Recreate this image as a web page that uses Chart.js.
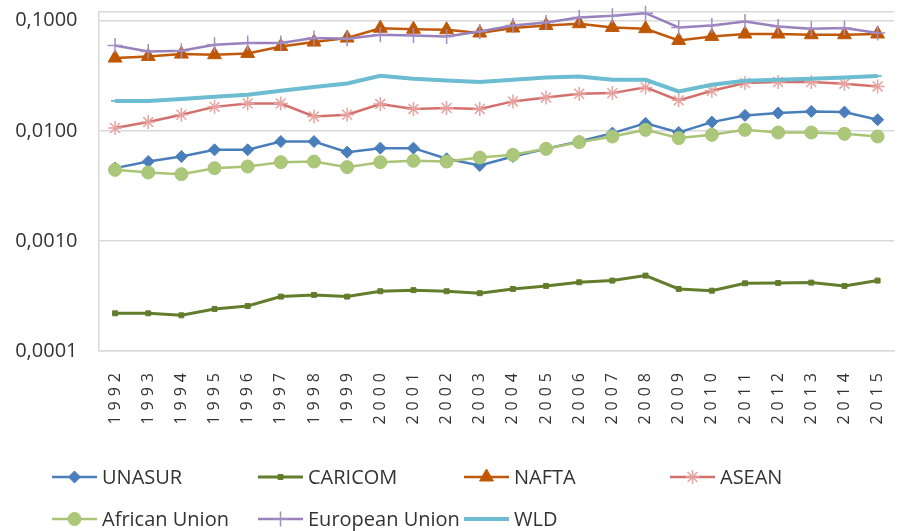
<!DOCTYPE html>
<html lang="en">
<head>
  <meta charset="UTF-8">
  <title>Regional blocs – log scale</title>
  <style>
    html, body {
      margin: 0;
      padding: 0;
      background: #fff;
      overflow: hidden;
    }
    #wrap {
      width: 914px;
      height: 531px;
    }
  </style>
</head>
<body>

<div id="wrap"><canvas id="chart"></canvas></div>

<script src="https://cdn.jsdelivr.net/npm/chart.js"></script>
<script>
  const years = ['1992', '1993', '1994', '1995', '1996', '1997', '1998', '1999', '2000', '2001', '2002', '2003',
                 '2004', '2005', '2006', '2007', '2008', '2009', '2010', '2011', '2012', '2013', '2014', '2015'];

  const unasur = [0.00458, 0.00526, 0.00584, 0.00672, 0.00672, 0.00799, 0.00799, 0.00640, 0.00696, 0.00696, 0.00557, 0.00484,
                  0.00584, 0.00686, 0.00799, 0.00953, 0.0117, 0.00965, 0.0120, 0.0138, 0.0145, 0.0150, 0.0148, 0.0126];
  const caricom = [0.000220, 0.000220, 0.000211, 0.000241, 0.000256, 0.000312, 0.000323, 0.000312, 0.000349, 0.000357, 0.000349, 0.000335,
                   0.000366, 0.000390, 0.000421, 0.000436, 0.000484, 0.000366, 0.000353, 0.000412, 0.000415, 0.000418, 0.000390, 0.000436];
  const nafta = [0.0458, 0.0474, 0.0498, 0.0491, 0.0505, 0.0584, 0.0640, 0.0696, 0.0855, 0.0837, 0.0828, 0.0773,
                 0.0858, 0.0906, 0.0939, 0.0869, 0.0846, 0.0662, 0.0720, 0.0757, 0.0757, 0.0746, 0.0746, 0.0757];
  const asean = [0.0106, 0.0120, 0.0140, 0.0165, 0.0177, 0.0177, 0.0135, 0.0140, 0.0175, 0.0158, 0.0161, 0.0158,
                 0.0185, 0.0201, 0.0217, 0.0220, 0.0248, 0.0189, 0.0231, 0.0272, 0.0277, 0.0277, 0.0268, 0.0253];
  const africanUnion = [0.00442, 0.00418, 0.00404, 0.00458, 0.00474, 0.00519, 0.00526, 0.00468, 0.00519, 0.00534, 0.00526, 0.00572,
                        0.00605, 0.00686, 0.00789, 0.00888, 0.0102, 0.00859, 0.0092, 0.0102, 0.00965, 0.00965, 0.00939, 0.00888];
  const europeanUnion = [0.0596, 0.0526, 0.0534, 0.0605, 0.0627, 0.0627, 0.0696, 0.0686, 0.0746, 0.0735, 0.0720, 0.0799,
                         0.0906, 0.0965, 0.107, 0.111, 0.117, 0.0869, 0.0906, 0.0985, 0.0888, 0.0846, 0.0858, 0.0773];
  const wld = [0.0187, 0.0187, 0.0195, 0.0204, 0.0213, 0.0231, 0.0250, 0.0269, 0.0316, 0.0297, 0.0287, 0.0277,
               0.0291, 0.0305, 0.0312, 0.0291, 0.0291, 0.0228, 0.0262, 0.0285, 0.0291, 0.0297, 0.0305, 0.0314];

  const yTicks = [0.0001, 0.001, 0.01, 0.1];
  const yMin = 0.0001;
  const yMax = 0.12;

  const FONT = "'Open Sans', 'DejaVu Sans', sans-serif";
  const TEXT = '#333333';
  const GRID = '#d9d9d9';

  function series(label, data, color, pt, order) {
    return Object.assign({
      label: label,
      data: data,
      borderColor: color,
      backgroundColor: color,
      borderWidth: 2.5,
      tension: 0,
      clip: false,
      order: order,
      pointBorderColor: color,
      pointBackgroundColor: color,
      pointBorderWidth: 1,
      pointHoverRadius: 6
    }, pt);
  }

  const datasets = [
    series('UNASUR', unasur, '#4a7ebb', { pointStyle: 'rectRot', pointRadius: 6 }, 7),
    series('CARICOM', caricom, '#627d2c', { pointStyle: 'rect', pointRadius: 3.5, borderWidth: 3 }, 6),
    series('NAFTA', nafta, '#c0590a', { pointStyle: 'triangle', pointRadius: 8, pointBackgroundColor: '#bf5700' }, 5),
    series('ASEAN', asean, '#d4706c', { pointStyle: 'star', pointRadius: 7, pointBorderColor: '#e7a3a0', pointBorderWidth: 1.5 }, 4),
    series('African Union', africanUnion, '#a9c476', { pointStyle: 'circle', pointRadius: 6.5, pointBackgroundColor: '#abc87a' }, 3),
    series('European Union', europeanUnion, '#9880bc', { pointStyle: 'cross', pointRadius: 7.5, pointBorderColor: '#a28dc4', pointBorderWidth: 1.5 }, 2),
    series('WLD', wld, '#6cbdd1', { pointStyle: 'line', pointRadius: 4, borderWidth: 4, pointBorderWidth: 2 }, 1)
  ];

  // spaced-out year labels and a fixed 4x2 legend under the axis
  const layoutPlugin = {
    id: 'layoutPlugin',
    beforeDraw(chart) {
      const sx = chart.scales.x;
      if (sx && !sx._spaced) {
        const orig = sx.drawLabels.bind(sx);
        sx.drawLabels = function (area) {
          const ctx = chart.ctx;
          ctx.save();
          ctx.letterSpacing = '5px';
          orig(area);
          ctx.restore();
        };
        sx._spaced = true;
      }
    },
    afterDraw(chart) {
      const ctx = chart.ctx;
      chart.data.datasets.forEach(function (ds, i) {
        const x = 52 + (i % 4) * 206;
        const y = 477 + Math.floor(i / 4) * 42;
        ctx.save();
        ctx.strokeStyle = ds.borderColor;
        ctx.lineWidth = ds.borderWidth;
        ctx.beginPath();
        ctx.moveTo(x, y);
        ctx.lineTo(x + 45, y);
        ctx.stroke();
        ctx.fillStyle = ds.pointBackgroundColor;
        ctx.strokeStyle = ds.pointBorderColor;
        ctx.lineWidth = ds.pointBorderWidth;
        Chart.helpers.drawPoint(ctx, {
          pointStyle: ds.pointStyle,
          radius: ds.pointRadius,
          rotation: 0,
          borderWidth: ds.pointBorderWidth
        }, x + 22.5, y);
        ctx.fillStyle = TEXT;
        ctx.font = "20px " + FONT;
        ctx.textBaseline = 'middle';
        ctx.textAlign = 'left';
        ctx.fillText(ds.label, x + 50, y + 1);
        ctx.restore();
      });
    }
  };

  new Chart(document.getElementById('chart'), {
    type: 'line',
    data: { labels: years, datasets: datasets },
    plugins: [layoutPlugin],
    options: {
      responsive: true,
      maintainAspectRatio: false,
      animation: false,
      layout: { padding: { top: 12, right: 0, bottom: 90, left: 0 } },
      plugins: {
        legend: { display: false },
        tooltip: { enabled: true }
      },
      scales: {
        x: {
          offset: true,
          grid: { display: false, drawTicks: false },
          border: { display: true, color: GRID, width: 1.5 },
          ticks: {
            minRotation: 90,
            maxRotation: 90,
            autoSkip: false,
            padding: 17,
            color: TEXT,
            font: { family: FONT, size: 16 }
          },
          afterFit(scale) { scale.height = 90; }
        },
        y: {
          type: 'logarithmic',
          min: yMin,
          max: yMax,
          bounds: 'data',
          grid: { color: GRID, lineWidth: 1.5, drawTicks: true, tickLength: 21, tickColor: 'rgba(0,0,0,0)' },
          border: { display: true, color: GRID, width: 1.5 },
          ticks: {
            padding: 0,
            color: TEXT,
            font: { family: FONT, size: 20, lineHeight: 1 },
            callback: function (v) {
              return yTicks.indexOf(v) >= 0 ? v.toFixed(4).replace('.', ',') : '';
            }
          },
          afterBuildTicks(scale) {
            scale.ticks = yTicks.concat([yMax]).map(function (v) { return { value: v }; });
          },
          afterFit(scale) { scale.width = 98.5; }
        }
      }
    }
  });
</script>

</body>
</html>
